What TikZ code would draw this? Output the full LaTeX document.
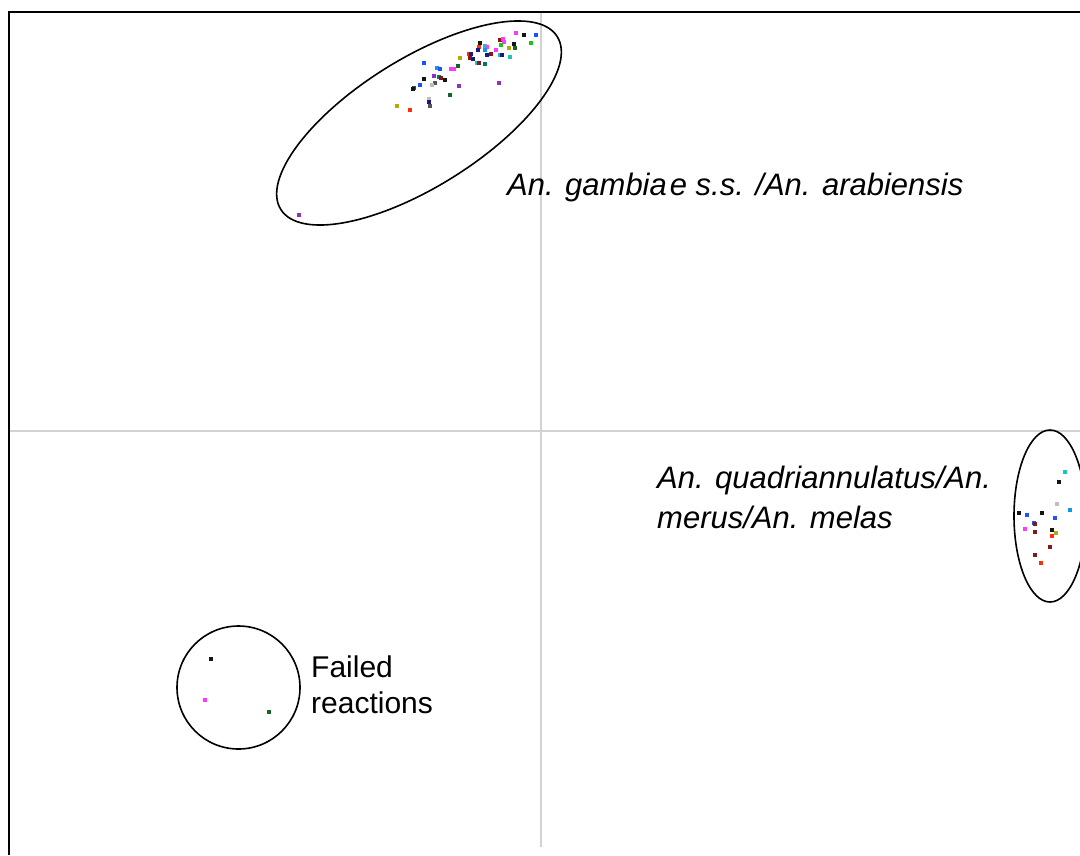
\documentclass[tikz,border=0pt]{standalone}
\usepackage{fontspec}
\setmainfont{Liberation Sans}
\definecolor{cmag}{RGB}{250,60,250}
\definecolor{cblk}{RGB}{20,20,20}
\definecolor{cblu}{RGB}{30,80,255}
\definecolor{cdred}{RGB}{130,25,25}
\definecolor{cgrn}{RGB}{20,200,20}
\definecolor{cred}{RGB}{255,45,10}
\definecolor{cteal}{RGB}{20,200,190}
\definecolor{cdgrn}{RGB}{20,100,40}
\definecolor{colv}{RGB}{180,170,10}
\definecolor{cnavy}{RGB}{25,25,130}
\definecolor{ccyan}{RGB}{20,150,230}
\definecolor{cpur}{RGB}{140,50,190}
\definecolor{cgry}{RGB}{85,85,85}
\definecolor{clgry}{RGB}{190,190,190}
\definecolor{cdteal}{RGB}{0,120,100}
\definecolor{axisgray}{RGB}{210,210,210}
\tikzset{
  frameline/.style={line width=2pt, black},
  axisline/.style={line width=1.4pt, axisgray},
  clusterline/.style={line width=1.6pt, black},
  label/.style={font=\fontsize{31}{41}\selectfont\itshape, anchor=base west, inner sep=0pt},
  failedlabel/.style={font=\fontsize{30}{36}\selectfont, anchor=base west, inner sep=0pt},
}
\begin{document}
\begin{tikzpicture}[x=1pt,y=-1pt]
\useasboundingbox (0,0) rectangle (1080,855);
\clip (0,0) rectangle (1080,855);
\fill[white] (0,0) rectangle (1080,855);
% axes
\draw[axisline] (541,12) -- (541,847);
\draw[axisline] (9,431) -- (1080,431);
% frame
\draw[frameline] (9,855) -- (9,12) -- (1080,12);
% clusters
\draw[clusterline, rotate around={32:(419,123)}] (419,123) ellipse[x radius=163, y radius=64];
\draw[clusterline] (1050,516) ellipse[x radius=36, y radius=86];
\draw[clusterline] (238.5,687.5) circle[radius=61.5];
% points
\foreach \px/\py/\pc in {
 516/32.7/cmag, 523.7/35.3/cblk, 536/35.3/cblu, 480/43/cblk, 500/40/cdred,
 503/39/cmag, 504/41.7/cmag, 513.7/44/cblk, 531/43/cgrn, 479/46.7/cred,
 485/45.7/cteal, 486.7/46.7/cmag, 515/47.7/cdgrn, 501/45/cgrn, 508.7/47.7/colv,
 477.7/50.3/cnavy, 485.3/49.7/ccyan, 496.3/50/cmag, 500.3/55/cteal, 502.3/55.3/cnavy,
 510/56.7/cteal, 491.3/54/cdred, 486.7/55.3/cnavy, 460/57.7/colv, 468.7/54.3/cred,
 471.3/54.3/cnavy, 469.7/58.3/cdred, 473/59/cnavy, 476.7/62.7/cteal, 479/62.7/cdred,
 485.3/64/cdteal, 424.3/62.7/cblu, 457.7/66.3/cdgrn, 451.3/68.7/cmag, 454/69.3/cmag,
 436.7/67.7/ccyan, 440.3/69/cblu, 434.3/76.3/cpur, 438.7/77/cdteal, 440.5/78/cdred,
 424.3/79.3/cblk, 445.3/80.3/cblk, 435.3/82.7/cgry, 431.7/85.3/clgry, 420.3/85.3/cblu,
 414.3/87.7/cdgrn, 413/89/cblk, 459/86.3/cpur, 498.7/82.7/cpur, 450.3/95.3/cdgrn,
 429.3/99.3/clgry, 429.3/101.5/cnavy, 396.7/106.3/colv, 410.3/110.3/cred, 430.3/106.3/cgry,
 298.7/215/cpur,
 1065/471.7/cteal, 1058.7/481.7/cblk, 1057.3/504.3/clgry, 1070/510.3/ccyan,
 1019/513/cblk, 1027.3/515.3/cblu, 1042.3/513/cblk, 1055/518/cblu, 1033.7/522.7/cblu,
 1035.3/524.3/cdred, 1025/529/cmag, 1035/531.7/cdred, 1052.3/530.3/cblk, 1056/533/colv,
 1052.3/535.7/cred, 1050/546.7/cdred, 1035/555.3/cdred, 1041/563/cred,
 211/659.3/cblk, 205.3/700/cmag, 268.7/712.3/cdgrn}
 \fill[\pc] (\px-2,\py-2) rectangle ++(4,4);
% labels
\node[label] (lblG) at (507,195) {An. gambia\kern3pt e s.s. /An. arabiensis};
\node[label] (lblQa) at (657,488) {An. quadriannulatus/An.};
\node[label] (lblQb) at (657,528) {merus/An. melas};
\node[failedlabel] (lblFa) at (311,677) {Failed};
\node[failedlabel] (lblFb) at (311,713) {reactions};
\end{tikzpicture}
\end{document}
